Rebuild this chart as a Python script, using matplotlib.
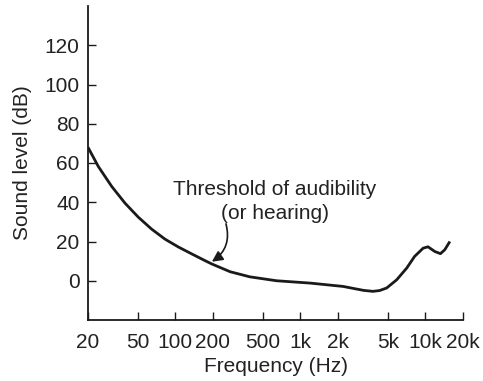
import matplotlib.pyplot as plt

plt.rcParams['font.family'] = ['Liberation Sans', 'DejaVu Sans']

# threshold of hearing
freq = [20, 24.2, 31, 39.6, 50.5, 64.6, 82.6, 105.7, 135, 172, 195, 274, 394, 644,
        1200, 2200, 2700, 3200, 3800, 4300, 4900, 5900, 7100, 8200, 9600, 10500,
        11900, 13200, 14300, 15700]
level = [68.0, 58.2, 48, 39.5, 32.4, 26.3, 21.2, 17.2, 13.7, 10.3, 8.6, 4.6, 2.0, 0.0,
         -1.2, -2.9, -4.0, -4.9, -5.4, -5.0, -3.7, 0.5, 6.5, 12.4, 16.6, 17.3,
         14.9, 13.8, 15.8, 20]

xticks = [20, 50, 100, 200, 500, 1000, 2000, 5000, 10000, 20000]
xlabels = ['20', '50', '100', '200', '500', '1k', '2k', '5k', '10k', '20k']
yticks = [0, 20, 40, 60, 80, 100, 120]

txt = '#222222'

fig = plt.figure(figsize=(4.83, 3.81), dpi=100)
ax = fig.add_axes([88/483, 61/381, 375/483, 314/381])

ax.plot(freq, level, color='#1a1a1a', lw=2, solid_capstyle='butt',
        solid_joinstyle='round')

ax.set_xscale('log')
ax.set_xlim(20, 20000)
ax.set_ylim(-20, 140)
ax.set_xticks(xticks)
ax.set_xticklabels(xlabels)
ax.minorticks_off()
ax.set_yticks(yticks)

for s in ['top', 'right']:
    ax.spines[s].set_visible(False)
for s in ['left', 'bottom']:
    ax.spines[s].set_linewidth(1.3)
    ax.spines[s].set_color('#1a1a1a')

ax.tick_params(direction='in', length=6, width=1, colors='#1a1a1a',
               labelsize=15, labelcolor=txt)
ax.tick_params(axis='y', pad=6)
ax.tick_params(axis='x', pad=9)

ax.set_xlabel('Frequency (Hz)', fontsize=15, color=txt, labelpad=4)
ax.set_ylabel('Sound level (dB)', fontsize=15, color=txt, labelpad=9)

ax.text(626, 40.5, 'Threshold of audibility\n(or hearing)', ha='center', va='center',
        fontsize=15, color=txt, linespacing=1.3)
ax.annotate('', xy=(196, 9.7), xytext=(254, 29),
            arrowprops=dict(arrowstyle='-|>', color='#1a1a1a', lw=1.2,
                            mutation_scale=16, connectionstyle='arc3,rad=-0.35',
                            shrinkA=0, shrinkB=0))

fig.savefig('out.png', dpi=100)
